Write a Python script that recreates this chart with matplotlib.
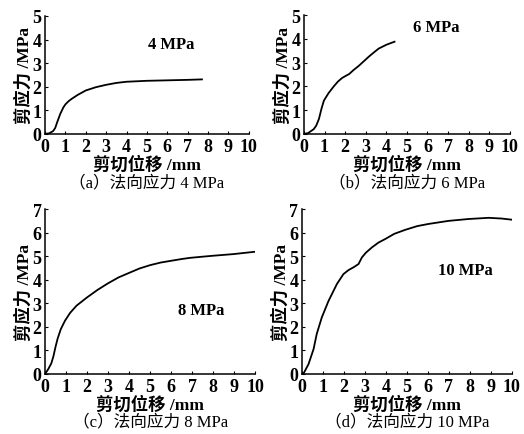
import matplotlib
matplotlib.use("Agg")
import matplotlib.pyplot as plt

plt.rcParams['font.family'] = ['Liberation Serif', 'Noto Sans CJK SC']

# (a) normal stress 4 MPa
xa = [0, 0.2, 0.4, 0.5, 0.6, 0.75, 0.9, 1.0, 1.15, 1.3, 1.6, 2.0, 2.5, 3.0, 3.5, 4.0, 5.0, 6.0, 7.0, 7.7]
ya = [0, 0.02, 0.12, 0.25, 0.5, 0.85, 1.12, 1.25, 1.38, 1.48, 1.65, 1.84, 1.98, 2.08, 2.16, 2.21, 2.25, 2.27, 2.29, 2.31]
# (b) normal stress 6 MPa
xb = [0, 0.2, 0.48, 0.6, 0.73, 0.85, 0.97, 1.2, 1.45, 1.65, 1.85, 2.05, 2.2, 2.4, 2.66, 2.9, 3.15, 3.4, 3.63, 4.0, 4.4]
yb = [0, 0.03, 0.2, 0.35, 0.63, 1.05, 1.4, 1.72, 2.0, 2.2, 2.35, 2.45, 2.52, 2.68, 2.86, 3.05, 3.25, 3.43, 3.59, 3.75, 3.88]
# (c) normal stress 8 MPa
xc = [0, 0.15, 0.3, 0.4, 0.5, 0.6, 0.75, 0.95, 1.2, 1.5, 2.0, 2.5, 3.0, 3.5, 4.05, 4.5, 5.0, 5.5, 6.03, 6.5, 6.9, 7.5, 8.0, 8.97, 10.0]
yc = [0, 0.2, 0.45, 0.75, 1.15, 1.5, 1.9, 2.26, 2.6, 2.9, 3.25, 3.57, 3.85, 4.1, 4.31, 4.48, 4.62, 4.73, 4.81, 4.88, 4.93, 4.98, 5.02, 5.09, 5.19]
# (d) normal stress 10 MPa
xd = [0, 0.1, 0.32, 0.56, 0.71, 0.95, 1.27, 1.67, 1.98, 2.22, 2.5, 2.7, 2.86, 3.05, 3.33, 3.65, 3.97, 4.4, 4.92, 5.5, 6.03, 6.98, 7.94, 8.89, 9.5, 10.0]
yd = [0, 0.05, 0.42, 1.06, 1.7, 2.4, 3.1, 3.82, 4.24, 4.41, 4.55, 4.67, 4.95, 5.15, 5.37, 5.58, 5.73, 5.95, 6.12, 6.28, 6.37, 6.5, 6.58, 6.63, 6.6, 6.55]

xs = [xa, xb, xc, xd]
ys = [ya, yb, yc, yd]
ymaxs = [5, 5, 7, 7]
notes = ["4 MPa", "6 MPa", "8 MPa", "10 MPa"]
note_pos = [(5.05, 3.8), (5.3, 4.5), (6.35, 2.7), (6.5, 4.4)]
captions = ["（a）法向应力 4 MPa", "（b）法向应力 6 MPa", "（c）法向应力 8 MPa", "（d）法向应力 10 MPa"]
xlabel = "剪切位移 /mm"
ylabel = "剪应力 /MPa"

rects = [
    [0.0859, 0.690, 0.389, 0.271],
    [0.580, 0.690, 0.393, 0.273],
    [0.0859, 0.138, 0.401, 0.379],
    [0.576, 0.138, 0.401, 0.379],
]

fig = plt.figure(figsize=(5.24, 4.35), dpi=100)
for i in range(4):
    ax = fig.add_axes(rects[i])
    ax.plot(xs[i], ys[i], color='black', lw=1.3)
    ax.set_xlim(0, 10)
    ax.set_ylim(0, ymaxs[i])
    ax.set_xticks(range(0, 11))
    ax.set_yticks(range(0, ymaxs[i] + 1))
    ax.spines['top'].set_visible(False)
    ax.spines['right'].set_visible(False)
    for s in ['left', 'bottom']:
        ax.spines[s].set_linewidth(1.1)
    ax.tick_params(direction='in', length=2.5, width=0.8, labelsize=13)
    ax.tick_params(axis='x', pad=3)
    ax.tick_params(axis='y', pad=2.5)
    for lab in ax.get_xticklabels() + ax.get_yticklabels():
        lab.set_fontweight('bold')
    ax.set_xlabel(xlabel, fontsize=12.5, labelpad=0, fontweight='bold')
    ax.set_ylabel(ylabel, fontsize=12.5, labelpad=0, fontweight='bold')
    ax.text(note_pos[i][0], note_pos[i][1], notes[i], fontsize=12, va='center', ha='left',
            fontweight='bold')
    ax.text(0.5, -0.41 if i < 2 else -0.285, captions[i], transform=ax.transAxes,
            fontsize=12, ha='center', va='center')

fig.savefig("out.png", dpi=100)
